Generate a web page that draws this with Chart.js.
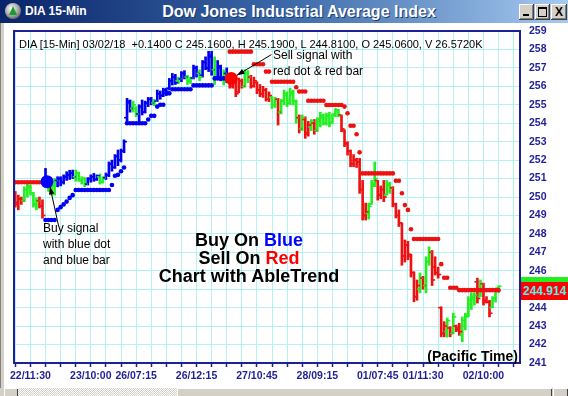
<!DOCTYPE html>
<html lang="en">
<head>
<meta charset="UTF-8">
<title>DIA 15-Min</title>
<style>
    body { margin: 0; width: 568px; height: 396px; overflow: hidden; background: #fff; font-family: Arial, "Liberation Sans", sans-serif; }
    #wrap { position: relative; width: 568px; height: 396px; }
    #chart { position: absolute; left: 0; top: 0; }
    .abs { position: absolute; white-space: nowrap; }
    .titlebar { left: 0; top: 0; width: 568px; height: 23px; background: linear-gradient(90deg, #0a246a 0%, #3a68a8 50%, #a6caf0 100%); }
    .icon { left: 5px; top: 3px; width: 16px; height: 16px; border-radius: 50%; background: radial-gradient(circle at 40% 35%, #ffffff 0%, #9a9a9a 55%, #303030 100%); }
    .tri { left: 9px; top: 6px; width: 0; height: 0; border-left: 4px solid transparent; border-right: 4px solid transparent; border-bottom: 9px solid #1c9c2c; }
    .ttl-small { left: 25px; top: 4px; color: #fff; font: bold 12px Arial; line-height: 15px; }
    .ttl-main { left: 0; top: 3px; width: 598px; text-align: center; color: #fff; font: bold 16px Arial; line-height: 17px; text-shadow: 1px 1px 0 #1c3a70; }
    .btn { top: 4px; width: 15px; height: 16px; background: #d4d0c8; box-shadow: inset -1px -1px #404040, inset 1px 1px #ffffff, inset -2px -2px #808080; }
    .lframe { left: 0; top: 23px; width: 4px; height: 365px; background: #d4d0c8; border-left: 1px solid #808080; box-sizing: border-box; }
    .sb { left: 0; top: 388px; width: 568px; height: 8px; background: #d4d0c8; }
    .sbtrack { left: 18px; top: 388px; width: 159px; height: 8px; background-image: repeating-conic-gradient(#d4d0c8 0% 25%, #ffffff 0% 50%); background-size: 2px 2px; }
    .sbbtn { top: 388px; height: 8px; background: #d4d0c8; box-shadow: inset 1px 1px #ffffff, inset -1px 0 #404040; }
    .note { font: 12px Arial; line-height: 16px; color: #000; }
    .big { left: 149px; top: 231px; width: 200px; text-align: center; font: bold 18px Arial; line-height: 18px; color: #000; }
    .hdr { left: 19px; top: 38px; font: 11px Arial; line-height: 12px; color: #000; }
    .tz { right: 50px; top: 348px; font: bold 14px Arial; line-height: 16px; color: #000; }
    #tagGreen { left: 521px; width: 47px; height: 5px; background: #22ee22; }
    #tagRed { left: 521px; width: 47px; height: 18px; background: #ff0000; color: #55eeee; font: bold 12px Arial; line-height: 18px; padding-left: 2px; box-sizing: border-box; overflow: hidden; }
</style>
<script src="https://cdn.jsdelivr.net/npm/chart.js"></script>
</head>
<body>
<div id="wrap">
    <canvas id="chart" width="568" height="396"></canvas>

    <div class="abs titlebar"></div>
    <div class="abs icon"></div>
    <div class="abs tri"></div>
    <div class="abs ttl-small">DIA 15-Min</div>
    <div class="abs ttl-main">Dow Jones Industrial Average Index</div>
    <div class="abs btn" style="left:519px"><div class="abs" style="left:4px;top:10px;width:6px;height:2px;background:#000"></div></div>
    <div class="abs btn" style="left:535px"><div class="abs" style="left:3px;top:3px;width:7px;height:7px;border:1px solid #000;border-top-width:2px"></div></div>
    <div class="abs btn" style="left:551px;width:16px;text-align:center;font:bold 12px Arial;line-height:16px">X</div>

    <div class="abs lframe"></div>
    <div class="abs sb"></div>
    <div class="abs sbbtn" style="left:4px;width:14px"></div>
    <div class="abs sbtrack"></div>
    <div class="abs sbbtn" style="left:177px;width:375px"></div>
    <div class="abs sbbtn" style="left:553px;width:15px"></div>

    <div class="abs hdr">DIA [15-Min] 03/02/18&nbsp;&nbsp;+0.1400 C 245.1600, H 245.1900, L 244.8100, O 245.0600, V 26.5720K</div>
    <div class="abs note" style="left:43px;top:220px">Buy signal<br>with blue dot<br>and blue bar</div>
    <div class="abs note" style="left:273px;top:47px">Sell signal with<br>red dot &amp; red bar</div>
    <div class="abs big">Buy On <span style="color:#0000ff">Blue</span><br>Sell On <span style="color:#ff0000">Red</span><br>Chart with AbleTrend</div>
    <div class="abs tz">(Pacific Time)</div>
    <div class="abs" id="tagGreen"></div>
    <div class="abs" id="tagRed">244.914</div>
</div>

<script>
    // bar colours: b = blue (up), g = green, r = red (down)
    const barColor = (
        'rrrgggggrr' + 'bgggbbbbbb' + 'ggggbbbbgg' + 'bbbbbbbbbg' + 'gbbbbbgbbb' +
        'bbbbgbbggb' + 'bgbbbbgbbg' + 'brrrrrggrr' + 'rrrrrggrgg' + 'ggggrgrrgr' +
        'ggggggggrr' + 'rrrrrrrggg' + 'rrrggrrrrr' + 'rrrrgrggrr' + 'rrrgrgrrgg' +
        'gggrgrrrgg' + 'g').split('');

    const openV = [
        250.1, 249.7, 249.9, 249.8, 250.4, 250.5, 250.2, 249.6, 249.8, 249.5,
        250.7, 251.0, 250.5, 250.6, 250.9, 251.0, 250.8, 251.1, 251.2, 251.3,
        251.1, 251.3, 250.9, 251.0, 250.7, 251.0, 251.1, 250.95, 251.1, 250.8,
        251.05, 251.2, 251.8, 251.6, 252.2, 252.0, 252.5, 254.3, 255.1, 254.8,
        254.8, 254.5, 254.9, 254.6, 255.1, 255.3, 255.1, 255.2, 255.6, 255.5,
        255.8, 255.9, 256.3, 256.5, 256.3, 256.4, 256.7, 256.5, 256.3, 256.45,
        257.0, 256.7, 256.6, 257.3, 257.0, 257.6, 256.9, 256.5, 257.0, 256.5,
        256.7, 256.5, 256.0, 256.2, 255.7, 256.3, 256.0, 256.7, 256.5, 256.0,
        256.2, 255.8, 255.6, 255.8, 255.3, 255.4, 255.0, 255.3, 254.6, 255.2,
        255.5, 255.1, 255.6, 255.2, 254.3, 253.7, 254.2, 253.5, 253.8, 254.0,
        253.6, 254.1, 254.3, 254.0, 254.4, 254.0, 254.5, 254.7, 254.45, 253.6,
        252.9, 252.5, 251.8, 252.0, 251.9, 250.4, 249.0, 249.1, 249.6, 250.6,
        250.9, 250.1, 250.4, 250.1, 250.6, 250.5, 249.6, 249.0, 248.6, 246.8,
        247.4, 246.8, 245.9, 244.6, 245.0, 245.6, 245.2, 246.5, 247.0, 246.2,
        245.9, 244.0, 242.6, 242.7, 242.9, 242.6, 243.0, 242.9, 242.5, 243.0,
        243.5, 244.2, 244.5, 245.4, 244.6, 245.3, 244.4, 244.3, 244.0, 244.5,
        245.06
    ];
    const highV = [
        250.3, 250.1, 250.0, 250.55, 250.75, 250.65, 250.25, 249.95, 250.0, 249.85,
        251.55, 251.1, 250.75, 251.0, 251.1, 251.1, 251.2, 251.37, 251.45, 251.46,
        251.46, 251.35, 251.1, 251.05, 251.05, 251.2, 251.28, 251.2, 251.25, 251.1,
        251.3, 251.9, 252.0, 252.3, 252.55, 252.6, 253.1, 255.35, 255.26, 255.2,
        254.9, 255.0, 255.26, 255.2, 255.4, 255.4, 255.3, 255.8, 255.75, 255.9,
        255.9, 256.43, 256.7, 256.65, 256.5, 256.8, 256.85, 256.6, 256.5, 257.15,
        257.1, 256.9, 257.4, 257.6, 257.9, 257.9, 257.6, 257.4, 257.15, 256.9,
        257.0, 256.7, 256.45, 256.45, 256.45, 256.4, 256.9, 256.85, 256.6, 256.5,
        256.25, 256.1, 256.0, 255.9, 255.7, 255.44, 255.4, 255.35, 255.3, 255.8,
        255.7, 255.9, 255.8, 255.26, 254.45, 254.45, 254.35, 254.1, 254.2, 254.2,
        254.3, 254.6, 254.5, 254.55, 254.6, 254.5, 254.8, 254.75, 254.45, 253.65,
        253.0, 252.55, 252.3, 252.1, 252.1, 250.9, 249.67, 249.67, 250.9, 251.9,
        250.9, 250.6, 250.9, 250.9, 250.8, 250.56, 249.67, 249.3, 248.6, 247.67,
        247.6, 246.9, 245.95, 245.5, 245.88, 245.7, 246.76, 247.3, 247.1, 246.76,
        246.2, 244.05, 243.24, 243.44, 242.97, 243.7, 243.06, 243.15, 243.5, 243.7,
        244.6, 244.8, 244.8, 245.6, 245.5, 245.33, 244.6, 244.4, 244.6, 245.05,
        245.19
    ];
    const lowV = [
        249.45, 249.3, 249.6, 249.75, 250.0, 250.1, 249.45, 249.3, 249.4, 248.85,
        250.55, 250.3, 250.1, 250.1, 250.55, 250.6, 250.7, 250.9, 250.95, 251.0,
        250.85, 250.85, 250.7, 250.56, 250.65, 250.8, 250.85, 250.9, 250.7, 250.75,
        250.95, 251.1, 251.4, 251.55, 251.7, 251.9, 252.4, 254.0, 254.6, 254.6,
        254.35, 254.0, 254.45, 254.55, 254.9, 255.0, 254.95, 255.17, 255.3, 255.44,
        255.5, 255.8, 256.07, 256.1, 256.15, 256.25, 256.4, 256.1, 256.15, 256.4,
        256.5, 256.3, 256.5, 256.9, 256.8, 256.6, 256.1, 256.5, 256.3, 256.07,
        256.2, 255.9, 255.9, 255.44, 255.65, 255.9, 255.95, 256.2, 255.9, 255.95,
        255.6, 255.44, 255.4, 255.2, 255.17, 254.8, 254.85, 253.9, 254.5, 255.0,
        254.9, 255.0, 255.0, 254.0, 253.47, 253.6, 253.18, 253.3, 253.6, 253.4,
        253.55, 253.8, 253.9, 253.9, 253.8, 254.0, 254.35, 254.35, 253.54, 252.73,
        252.27, 251.64, 251.64, 251.6, 250.2, 248.75, 248.75, 248.8, 249.6, 250.56,
        249.83, 249.9, 249.75, 250.1, 250.2, 249.47, 248.86, 248.4, 246.3, 246.47,
        246.6, 245.66, 244.32, 244.4, 244.8, 245.0, 244.8, 246.3, 245.2, 245.77,
        245.6, 242.42, 242.42, 242.4, 242.42, 242.6, 242.7, 242.5, 242.15, 242.8,
        243.5, 243.9, 244.14, 244.25, 244.6, 244.14, 244.25, 243.5, 244.0, 244.3,
        244.81
    ];
    const closeV = [
        249.6, 249.9, 249.8, 250.4, 250.6, 250.2, 249.6, 249.8, 249.5, 249.0,
        251.0, 250.5, 250.6, 250.9, 251.0, 250.8, 251.1, 251.2, 251.3, 251.1,
        251.3, 250.9, 251.0, 250.7, 251.0, 251.1, 250.95, 251.15, 250.8, 251.05,
        251.2, 251.8, 251.6, 252.2, 252.0, 252.5, 253.0, 255.2, 254.8, 255.0,
        254.5, 254.9, 254.6, 255.1, 255.3, 255.1, 255.2, 255.6, 255.5, 255.8,
        255.7, 256.3, 256.5, 256.2, 256.4, 256.7, 256.5, 256.3, 256.45, 257.0,
        256.7, 256.5, 257.3, 257.0, 257.7, 256.9, 256.4, 257.1, 256.5, 256.7,
        256.4, 256.0, 256.2, 255.6, 256.3, 256.0, 256.7, 256.5, 256.0, 256.3,
        255.8, 255.6, 255.8, 255.3, 255.5, 255.0, 255.3, 254.6, 255.2, 255.6,
        255.1, 255.7, 255.2, 254.3, 253.7, 254.3, 253.4, 253.9, 254.1, 253.6,
        254.2, 254.4, 254.0, 254.4, 254.0, 254.45, 254.7, 254.45, 253.7, 252.9,
        252.5, 251.8, 252.0, 251.9, 250.4, 249.0, 249.2, 249.5, 250.7, 251.0,
        250.1, 250.4, 250.0, 250.7, 250.5, 249.6, 249.0, 248.6, 246.8, 247.4,
        246.9, 245.9, 244.6, 245.2, 245.6, 245.2, 246.5, 247.0, 245.5, 245.9,
        245.8, 242.6, 243.0, 243.3, 242.6, 243.5, 242.8, 242.7, 243.3, 243.6,
        244.4, 244.6, 244.7, 244.5, 245.3, 244.3, 244.3, 243.7, 244.5, 244.9,
        245.16
    ];

    // trailing stop dots: [first bar, last bar, price]
    const blueStops = [
        [10, 13, 248.75], [14, 14, 249.3], [15, 15, 249.45], [16, 16, 249.6], [17, 17, 249.75],
        [18, 18, 249.95], [19, 19, 250.1], [20, 31, 250.38], [32, 32, 250.65], [33, 33, 251.15],
        [34, 34, 251.2], [35, 35, 251.4], [36, 36, 251.6], [37, 43, 254.0], [44, 44, 254.2],
        [45, 46, 254.4], [47, 47, 254.9], [48, 49, 255.0], [50, 51, 255.62], [52, 58, 255.84],
        [59, 65, 256.05], [66, 70, 256.43]
    ];
    const redStops = [
        [0, 9, 250.8], [71, 78, 257.88], [79, 82, 257.2], [83, 84, 256.8], [85, 92, 256.25],
        [93, 93, 255.95], [94, 96, 255.72], [97, 102, 255.22], [103, 108, 254.99], [109, 109, 254.9],
        [110, 110, 254.54], [111, 112, 253.86], [113, 113, 253.4], [114, 114, 252.42], [115, 125, 251.28],
        [126, 127, 250.88], [128, 128, 250.2], [129, 129, 249.56], [130, 130, 249.3], [131, 131, 248.25],
        [132, 140, 247.72], [141, 141, 246.36], [142, 143, 245.62], [144, 146, 245.08], [147, 160, 244.95]
    ];

    // buy / sell signal dots
    const signalX = [10.5, 71.5];
    const signalY = [250.83, 256.43];
    const signalColor = ['#0000ff', '#ff0000'];

    // annotation arrows: [fromBar, fromPrice, toBar, toPrice]
    const arrows = [
        [14.3, 248.45, 11.5, 250.55],
        [84.8, 257.72, 73.4, 256.6]
    ];

    const xTickBars = [5, 25, 40, 60, 80, 100, 120, 135, 155];
    const xTickText = ['22/11:30', '23/10:00', '26/07:15', '26/12:15', '27/10:45', '28/09:15', '01/07:45', '01/11:30', '02/10:00'];
    const xMin = -0.43, xMax = 167.1;
    const yMin = 241, yMax = 259;
    const lastPrice = 244.914;

    const NAVY = '#1e1e96';
    const GRID = '#b2f2f2';
    const palette = { b: '#0000f0', g: '#22ee22', r: '#ee1111' };

    const idx = openV.map((v, i) => i);
    const colors = barColor.map(c => palette[c]);

    function expand(segs) {
        const out = [];
        segs.forEach(([a, b, v]) => { for (let i = a; i <= b; i++) out.push({ x: i, y: v }); });
        return out;
    }
    const stopPts = expand(redStops).concat(expand(blueStops));
    const stopColors = expand(redStops).map(() => palette.r).concat(expand(blueStops).map(() => palette.b));

    const overlay = {
        id: 'overlay',
        afterDatasetsDraw(chart) {
            const { ctx, chartArea: a, scales: { x, y } } = chart;
            ctx.save();
            ctx.strokeStyle = '#000';
            ctx.fillStyle = '#000';
            ctx.lineWidth = 1;
            arrows.forEach(ar => {
                const x0 = x.getPixelForValue(ar[0]), y0 = y.getPixelForValue(ar[1]);
                const x1 = x.getPixelForValue(ar[2]), y1 = y.getPixelForValue(ar[3]);
                const ang = Math.atan2(y1 - y0, x1 - x0);
                ctx.beginPath();
                ctx.moveTo(x0, y0);
                ctx.lineTo(x1, y1);
                ctx.stroke();
                ctx.beginPath();
                ctx.moveTo(x1, y1);
                ctx.lineTo(x1 - 8 * Math.cos(ang - 0.35), y1 - 8 * Math.sin(ang - 0.35));
                ctx.lineTo(x1 - 8 * Math.cos(ang + 0.35), y1 - 8 * Math.sin(ang + 0.35));
                ctx.closePath();
                ctx.fill();
            });
            ctx.strokeStyle = NAVY;
            ctx.lineWidth = 2;
            ctx.strokeRect(a.left, a.top, a.right - a.left, a.bottom - a.top);
            ctx.restore();

            const py = y.getPixelForValue(lastPrice);
            document.getElementById('tagGreen').style.top = Math.round(py - 14) + 'px';
            document.getElementById('tagRed').style.top = Math.round(py - 9) + 'px';
        }
    };

    const tickFont = { family: 'Arial', size: 10.5, weight: 'bold' };

    new Chart(document.getElementById('chart'), {
        type: 'bar',
        data: {
            datasets: [
                {
                    type: 'scatter',
                    data: signalX.map((v, i) => ({ x: v, y: signalY[i] })),
                    pointRadius: 6.5,
                    pointBackgroundColor: signalColor,
                    pointBorderWidth: 0
                },
                {
                    type: 'scatter',
                    data: stopPts,
                    pointRadius: 2.3,
                    pointBackgroundColor: stopColors,
                    pointBorderWidth: 0
                },
                {
                    type: 'scatter',
                    data: idx.map(i => ({ x: i - 0.6, y: openV[i] })),
                    pointStyle: 'line',
                    pointRadius: 1.2,
                    pointBorderWidth: 1.6,
                    pointBorderColor: colors
                },
                {
                    type: 'scatter',
                    data: idx.map(i => ({ x: i + 0.6, y: closeV[i] })),
                    pointStyle: 'line',
                    pointRadius: 1.2,
                    pointBorderWidth: 1.6,
                    pointBorderColor: colors
                },
                {
                    type: 'bar',
                    data: idx.map(i => ({ x: i, y: [lowV[i], highV[i]] })),
                    backgroundColor: colors,
                    borderWidth: 0,
                    barThickness: 2
                }
            ]
        },
        options: {
            responsive: false,
            animation: false,
            events: [],
            layout: { padding: { top: 31, left: 14, right: 0, bottom: 0 } },
            plugins: { legend: { display: false }, tooltip: { enabled: false } },
            scales: {
                x: {
                    type: 'linear',
                    min: xMin,
                    max: xMax,
                    offset: false,
                    grid: { color: GRID, offset: false, lineWidth: 1, drawTicks: true, tickLength: 4, tickColor: NAVY, tickWidth: 1.5 },
                    border: { display: true, color: NAVY, width: 2 },
                    ticks: {
                        stepSize: 5,
                        includeBounds: false,
                        autoSkip: false,
                        maxRotation: 0,
                        minRotation: 0,
                        padding: 3,
                        color: NAVY,
                        font: tickFont,
                        callback: v => {
                            const k = xTickBars.indexOf(Math.round(v));
                            return k >= 0 ? xTickText[k] : '';
                        }
                    },
                    afterFit: s => { s.height = 33; }
                },
                y: {
                    position: 'right',
                    min: yMin,
                    max: yMax,
                    grid: { color: GRID, lineWidth: 1, drawTicks: false },
                    border: { display: true, color: NAVY, width: 2 },
                    ticks: { stepSize: 1, padding: 9, color: NAVY, font: tickFont },
                    afterFit: s => { s.width = 48; }
                }
            }
        },
        plugins: [overlay]
    });
</script>
</body>
</html>
